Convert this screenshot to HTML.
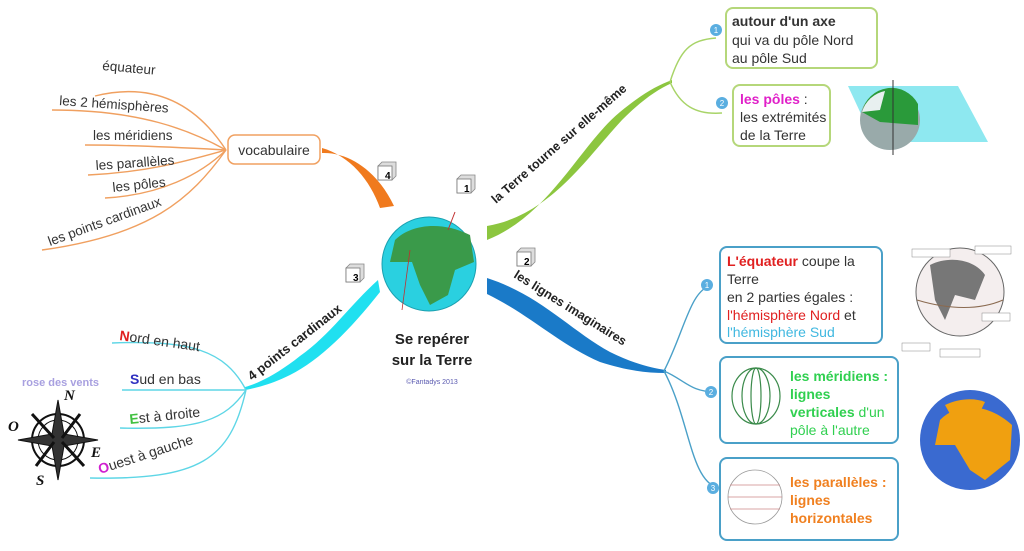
<!DOCTYPE html>
<html><head><meta charset="utf-8"><style>
html,body{margin:0;padding:0;background:#fff;}
svg{display:block;font-family:"Liberation Sans",Arial,sans-serif;}
</style></head><body>
<svg width="1024" height="551" viewBox="0 0 1024 551" xmlns="http://www.w3.org/2000/svg">
<defs>
<g id="cube"><path d="M0 4 L4 0 L18 0 L18 14 L14 18 L0 18Z" fill="#ddd" stroke="#888" stroke-width="0.8"/><rect x="0" y="4" width="14" height="14" fill="#fff" stroke="#777" stroke-width="0.8"/></g>
</defs>

<!-- Orange branch -->
<path d="M322 148 C350 156 370 180 380 208 L394 206 C378 172 350 152 322 153Z" fill="#f07a1e"/>
<g fill="none" stroke="#f0a060" stroke-width="1.4">
<path d="M226 150 C200 110 160 80 95 96"/>
<path d="M226 150 C190 130 140 110 52 110"/>
<path d="M226 150 C190 148 140 145 85 145"/>
<path d="M226 150 C190 160 150 172 88 175"/>
<path d="M226 150 C200 175 160 195 105 198"/>
<path d="M226 150 C190 200 150 235 42 250"/>
</g>
<rect x="228" y="135" width="92" height="29" rx="7" fill="#fff" stroke="#f0a060" stroke-width="1.5"/>
<text x="274" y="155" font-size="14" fill="#333" text-anchor="middle">vocabulaire</text>
<g font-size="13.5" fill="#333">
<text x="102" y="70" transform="rotate(5 102 70)">équateur</text>
<text x="59" y="105" transform="rotate(4 59 105)">les 2 hémisphères</text>
<text x="93" y="140">les méridiens</text>
<text x="96" y="170" transform="rotate(-4 96 170)">les parallèles</text>
<text x="113" y="192" transform="rotate(-6 113 192)">les pôles</text>
<text x="50" y="246" transform="rotate(-20 50 246)">les points cardinaux</text>
</g>

<!-- Green branch -->
<path d="M487 240 C550 215 580 145 620 112 C642 94 656 86 672 80 L672 83 C656 90 640 102 622 120 C585 160 550 215 487 226Z" fill="#8cc63f"/>
<g fill="none" stroke="#a8d468" stroke-width="1.5">
<path d="M670 82 C680 50 690 40 716 38"/>
<path d="M670 82 C680 105 695 115 722 113"/>
</g>
<text x="496" y="204" font-size="12.5" font-weight="bold" fill="#222" transform="rotate(-41 496 204)">la Terre tourne sur elle-même</text>
<rect x="726" y="8" width="151" height="60" rx="7" fill="#fff" stroke="#b5d77a" stroke-width="2"/>
<text font-size="14" fill="#333"><tspan x="732" y="26" font-weight="bold">autour d'un axe</tspan><tspan x="732" y="45">qui va du pôle Nord</tspan><tspan x="732" y="63">au pôle Sud</tspan></text>
<rect x="733" y="85" width="97" height="61" rx="7" fill="#fff" stroke="#b5d77a" stroke-width="2"/>
<text font-size="14" fill="#333"><tspan x="740" y="104"><tspan fill="#e020c8" font-weight="bold">les pôles</tspan> :</tspan><tspan x="740" y="122">les extrémités</tspan><tspan x="740" y="140">de la Terre</tspan></text>
<circle cx="716" cy="30" r="6" fill="#5aaee0"/><text x="716" y="33" font-size="8" fill="#fff" text-anchor="middle">1</text>
<circle cx="722" cy="103" r="6" fill="#5aaee0"/><text x="722" y="106" font-size="8" fill="#fff" text-anchor="middle">2</text>
<path d="M848 86 L958 86 L988 142 L874 142Z" fill="#8ee8f0"/>
<circle cx="890" cy="120" r="30" fill="#9aa"/>
<path d="M862 112 A30 30 0 0 1 918 104 L918 125 L880 122Z" fill="#2a9a3a"/>
<path d="M862 112 A30 30 0 0 1 885 91 L880 110Z" fill="#e8f0f0"/>
<line x1="893" y1="80" x2="893" y2="155" stroke="#333" stroke-width="1"/>

<!-- Blue branch -->
<path d="M487 278 C540 295 570 330 610 352 C630 362 650 368 666 370 L666 373 C645 373 625 370 600 362 C560 345 530 315 487 294Z" fill="#1a7ac8"/>
<g fill="none" stroke="#4aa0c8" stroke-width="1.4">
<path d="M664 371 C685 330 690 290 712 285"/>
<path d="M664 371 C685 380 690 392 716 392"/>
<path d="M664 371 C690 420 690 480 718 488"/>
</g>
<text x="513" y="277" font-size="12.5" font-weight="bold" fill="#222" transform="rotate(32 513 277)">les lignes imaginaires</text>
<rect x="720" y="247" width="162" height="96" rx="7" fill="#fff" stroke="#4aa0c8" stroke-width="2"/>
<text font-size="14" fill="#333"><tspan x="727" y="266"><tspan fill="#e02020" font-weight="bold">L'équateur</tspan> coupe la</tspan><tspan x="727" y="284">Terre</tspan><tspan x="727" y="302">en 2 parties égales :</tspan><tspan x="727" y="320"><tspan fill="#e02020">l'hémisphère Nord</tspan> et</tspan><tspan x="727" y="337" fill="#40b8e0">l'hémisphère Sud</tspan></text>
<rect x="720" y="357" width="178" height="86" rx="7" fill="#fff" stroke="#4aa0c8" stroke-width="2"/>
<text font-size="14" font-weight="bold" fill="#30d050"><tspan x="790" y="381">les méridiens :</tspan><tspan x="790" y="399">lignes</tspan><tspan x="790" y="417">verticales <tspan font-weight="normal">d'un</tspan></tspan><tspan x="790" y="435" font-weight="normal">pôle à l'autre</tspan></text>
<rect x="720" y="458" width="178" height="82" rx="7" fill="#fff" stroke="#4aa0c8" stroke-width="2"/>
<text font-size="14" font-weight="bold" fill="#f08020"><tspan x="790" y="487">les parallèles :</tspan><tspan x="790" y="505">lignes</tspan><tspan x="790" y="523">horizontales</tspan></text>
<circle cx="707" cy="285" r="6" fill="#5aaee0"/><text x="707" y="288" font-size="8" fill="#fff" text-anchor="middle">1</text>
<circle cx="711" cy="392" r="6" fill="#5aaee0"/><text x="711" y="395" font-size="8" fill="#fff" text-anchor="middle">2</text>
<circle cx="713" cy="488" r="6" fill="#5aaee0"/><text x="713" y="491" font-size="8" fill="#fff" text-anchor="middle">3</text>
<g fill="none" stroke="#3a8a4a" stroke-width="1.2">
<ellipse cx="756" cy="396" rx="24" ry="28"/><ellipse cx="756" cy="396" rx="14" ry="28"/><ellipse cx="756" cy="396" rx="5" ry="28"/>
</g>
<g fill="none" stroke="#c88" stroke-width="0.8">
<circle cx="755" cy="497" r="27" stroke="#999"/><path d="M730 485 L780 485 M728 497 L782 497 M730 509 L780 509"/>
</g>
<circle cx="960" cy="292" r="44" fill="#f4eeee" stroke="#666"/>
<path d="M930 265 C950 255 975 260 985 275 L975 300 L955 295 L945 320 L935 300Z" fill="#777"/>
<path d="M917 300 C950 310 980 310 1003 300" stroke="#8a6a50" fill="none"/>
<rect x="912" y="249" width="38" height="8" fill="#fff" stroke="#888" stroke-width="0.5"/>
<rect x="975" y="246" width="36" height="8" fill="#fff" stroke="#888" stroke-width="0.5"/>
<rect x="982" y="313" width="28" height="8" fill="#fff" stroke="#888" stroke-width="0.5"/>
<rect x="902" y="343" width="28" height="8" fill="#fff" stroke="#888" stroke-width="0.5"/>
<rect x="940" y="349" width="40" height="8" fill="#fff" stroke="#888" stroke-width="0.5"/>
<circle cx="970" cy="440" r="50" fill="#3a6ad0"/>
<path d="M940 420 C960 400 990 405 1012 425 L1010 460 L985 480 L970 470 L955 445 L935 445Z" fill="#f0a010"/>
<path d="M945 405 C960 398 975 398 985 402 L980 412 L950 414Z" fill="#f0a010"/>

<!-- Cyan branch -->
<path d="M380 292 C350 330 320 360 290 375 C270 385 255 388 245 390 L245 387 C260 383 280 372 300 356 C330 335 350 305 378 280Z" fill="#20e0f0"/>
<g fill="none" stroke="#5ed6e6" stroke-width="1.4">
<path d="M246 390 C225 350 190 340 112 343"/>
<path d="M246 390 L122 390"/>
<path d="M246 390 C225 420 200 430 120 428"/>
<path d="M246 390 C230 460 200 480 90 478"/>
</g>
<text x="252" y="381" font-size="13" font-weight="bold" fill="#222" transform="rotate(-38 252 381)">4 points cardinaux</text>
<g font-size="14" fill="#333">
<text x="119" y="340" transform="rotate(8 119 340)"><tspan fill="#e02020" font-weight="bold">N</tspan>ord en haut</text>
<text x="130" y="384"><tspan fill="#3030c0" font-weight="bold">S</tspan>ud en bas</text>
<text x="130" y="424" transform="rotate(-6 130 424)"><tspan fill="#40c040" font-weight="bold">E</tspan>st à droite</text>
<text x="100" y="474" transform="rotate(-18 100 474)"><tspan fill="#d020d0" font-weight="bold">O</tspan>uest à gauche</text>
</g>
<text x="22" y="386" font-size="11" font-weight="bold" fill="#a8a0e0">rose des vents</text>
<g stroke="#111" fill="none">
<circle cx="58" cy="440" r="26" stroke-width="2"/><circle cx="58" cy="440" r="20"/>
<path d="M58 400 L64 434 L98 440 L64 446 L58 480 L52 446 L18 440 L52 434Z" fill="#333"/>
<path d="M80 414 L62 438 M36 466 L54 442 M84 466 L62 442 M32 414 L54 438" stroke-width="3"/>
</g>
<g font-family="Liberation Serif,serif" font-style="italic" font-weight="bold" font-size="15" fill="#111">
<text x="64" y="400">N</text><text x="8" y="431">O</text><text x="91" y="457">E</text><text x="36" y="485">S</text>
</g>

<!-- Central globe -->
<circle cx="429" cy="264" r="47" fill="#2ad0e0" stroke="#1aa0b0"/>
<path d="M395 240 C410 225 440 220 470 235 L474 262 L455 270 L448 295 L430 305 L420 285 L412 262 L390 262Z" fill="#3a9a4a"/>
<line x1="410" y1="250" x2="402" y2="310" stroke="#c03030" stroke-width="0.8"/>
<line x1="455" y1="212" x2="448" y2="230" stroke="#c03030"/>
<text x="432" y="344" font-size="15" font-weight="bold" fill="#222" text-anchor="middle">Se repérer</text>
<text x="432" y="365" font-size="15" font-weight="bold" fill="#222" text-anchor="middle">sur la Terre</text>
<text x="432" y="384" font-size="7" fill="#5a5ab0" text-anchor="middle">©Fantadys 2013</text>

<use href="#cube" x="378" y="162"/><text x="385" y="179" font-size="10" font-weight="bold">4</text>
<use href="#cube" x="457" y="175"/><text x="464" y="192" font-size="10" font-weight="bold">1</text>
<use href="#cube" x="346" y="264"/><text x="353" y="281" font-size="10" font-weight="bold">3</text>
<use href="#cube" x="517" y="248"/><text x="524" y="265" font-size="10" font-weight="bold">2</text>
</svg>
</body></html>
